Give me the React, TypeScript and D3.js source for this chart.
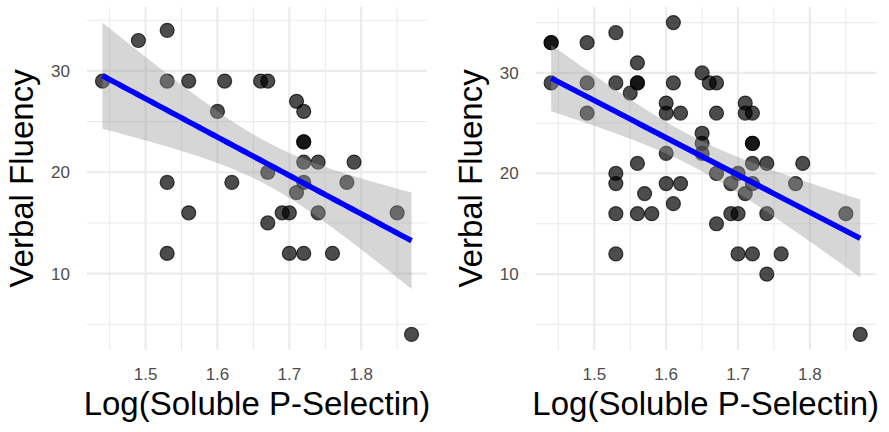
import React, { useEffect, useRef } from 'react';
import * as d3 from 'd3';

// left panel
const xLeft = [1.44, 1.49, 1.53, 1.53, 1.56, 1.61, 1.66, 1.67, 1.60, 1.71, 1.72, 1.72, 1.72, 1.72, 1.74, 1.79, 1.53,
  1.62, 1.67, 1.72, 1.78, 1.71, 1.56, 1.69, 1.70, 1.74, 1.85, 1.67, 1.53, 1.70, 1.72, 1.76, 1.87];
const yLeft = [29, 33, 34, 29, 29, 29, 29, 29, 26, 27, 26, 23, 23, 21, 21, 21, 19,
  19, 20, 19, 19, 18, 16, 16, 16, 16, 16, 15, 12, 12, 12, 12, 4];

// right panel
const xRight = [1.44, 1.44, 1.44, 1.49, 1.49, 1.49, 1.53, 1.53, 1.55, 1.56, 1.56, 1.56, 1.61, 1.61, 1.60, 1.60, 1.62,
  1.65, 1.66, 1.67, 1.67, 1.71, 1.71, 1.72, 1.65, 1.65, 1.65, 1.60, 1.72, 1.72, 1.56, 1.72, 1.74, 1.79, 1.53, 1.53,
  1.60, 1.62, 1.67, 1.69, 1.70, 1.72, 1.71, 1.78, 1.57, 1.61, 1.53, 1.56, 1.58, 1.69, 1.70, 1.74, 1.85, 1.67, 1.53,
  1.70, 1.72, 1.76, 1.74, 1.87];
const yRight = [33, 33, 29, 33, 29, 26, 34, 29, 28, 31, 29, 29, 35, 29, 27, 26, 26,
  30, 29, 29, 26, 27, 26, 26, 24, 23, 22, 22, 23, 23, 21, 21, 21, 21, 20, 19,
  19, 19, 20, 19, 20, 19, 18, 19, 18, 17, 16, 16, 16, 16, 16, 16, 16, 15, 12,
  12, 12, 12, 10, 4];

const xTicks = [1.5, 1.6, 1.7, 1.8];
const yTicks = [10, 20, 30];
const xTitle = 'Log(Soluble P-Selectin)';
const yTitle = 'Verbal Fluency';

const W = 889;
const H = 432;
const FONT = 'Liberation Sans, Arial, Helvetica, sans-serif';

// t quantile (0.975) approximation
const tq = (df: number) => {
  const z = 1.959964;
  return z + (z ** 3 + z) / (4 * df) + (5 * z ** 5 + 16 * z ** 3 + 3 * z) / (96 * df * df);
};

const fit = (xs: number[], ys: number[]) => {
  const n = xs.length;
  const mx = d3.mean(xs)!;
  const my = d3.mean(ys)!;
  let sxx = 0, sxy = 0;
  xs.forEach((x, i) => { sxx += (x - mx) ** 2; sxy += (x - mx) * (ys[i] - my); });
  const b = sxy / sxx;
  const a = my - b * mx;
  let sse = 0;
  xs.forEach((x, i) => { sse += (ys[i] - a - b * x) ** 2; });
  const s = Math.sqrt(sse / (n - 2));
  const t = tq(n - 2);
  const [x0, x1] = d3.extent(xs) as [number, number];
  const band = d3.range(81).map(i => {
    const x = x0 + (x1 - x0) * i / 80;
    const yh = a + b * x;
    const se = s * Math.sqrt(1 / n + (x - mx) ** 2 / sxx);
    return { x, y: yh, lo: yh - t * se, hi: yh + t * se };
  });
  return band;
};

const App = () => {
  const ref = useRef<SVGSVGElement>(null);

  useEffect(() => {
    const svg = d3.select(ref.current);
    svg.selectAll('*').remove();
    svg.append('rect').attr('width', W).attr('height', H).attr('fill', '#fff');

    const panels = [
      { xs: xLeft, ys: yLeft, left: 87, right: 427 },
      { xs: xRight, ys: yRight, left: 535.7, right: 875.7 },
    ];
    const top = 7;
    const bottom = 350;

    panels.forEach(p => {
      const band = fit(p.xs, p.ys);
      const xExt = d3.extent(p.xs) as [number, number];
      const yMin = Math.min(d3.min(p.ys)!, d3.min(band, d => d.lo)!);
      const yMax = Math.max(d3.max(p.ys)!, d3.max(band, d => d.hi)!);
      const xPad = (xExt[1] - xExt[0]) * 0.05;
      const yPad = (yMax - yMin) * 0.05;
      const x = d3.scaleLinear().domain([xExt[0] - xPad, xExt[1] + xPad]).range([p.left, p.right]);
      const y = d3.scaleLinear().domain([yMin - yPad, yMax + yPad]).range([bottom, top]);

      const g = svg.append('g');

      // minor grid
      const xMinor = xTicks.map(t => t - 0.05).concat([xTicks[xTicks.length - 1] + 0.05]).filter(v => v >= x.domain()[0] && v <= x.domain()[1]);
      const yMinor = yTicks.map(t => t - 5).concat([yTicks[yTicks.length - 1] + 5]).filter(v => v >= y.domain()[0] && v <= y.domain()[1]);
      g.selectAll('.xmin').data(xMinor).enter().append('line')
        .attr('x1', d => x(d)).attr('x2', d => x(d)).attr('y1', top).attr('y2', bottom)
        .attr('stroke', '#ebebeb').attr('stroke-width', 1.1);
      g.selectAll('.ymin').data(yMinor).enter().append('line')
        .attr('x1', p.left).attr('x2', p.right).attr('y1', d => y(d)).attr('y2', d => y(d))
        .attr('stroke', '#ebebeb').attr('stroke-width', 1.1);
      // major grid
      g.selectAll('.xmaj').data(xTicks).enter().append('line')
        .attr('x1', d => x(d)).attr('x2', d => x(d)).attr('y1', top).attr('y2', bottom)
        .attr('stroke', '#ebebeb').attr('stroke-width', 2.2);
      g.selectAll('.ymaj').data(yTicks).enter().append('line')
        .attr('x1', p.left).attr('x2', p.right).attr('y1', d => y(d)).attr('y2', d => y(d))
        .attr('stroke', '#ebebeb').attr('stroke-width', 2.2);

      // points
      g.selectAll('circle').data(p.xs).enter().append('circle')
        .attr('cx', d => x(d)).attr('cy', (d, i) => y(p.ys[i])).attr('r', 7)
        .attr('fill', '#000').attr('fill-opacity', 0.7)
        .attr('stroke', '#000').attr('stroke-opacity', 0.7).attr('stroke-width', 1.2);

      // confidence band
      const area = d3.area<any>().x(d => x(d.x)).y0(d => y(d.lo)).y1(d => y(d.hi));
      g.append('path').attr('d', area(band)).attr('fill', '#999999').attr('fill-opacity', 0.4);

      const line = d3.line<any>().x(d => x(d.x)).y(d => y(d.y));
      g.append('path').attr('d', line(band)).attr('fill', 'none').attr('stroke', '#0000ff').attr('stroke-width', 5.5);

      // tick labels
      g.selectAll('.xt').data(xTicks).enter().append('text')
        .attr('x', d => x(d)).attr('y', bottom + 30).attr('text-anchor', 'middle')
        .style('font-family', FONT).style('font-size', '17px').attr('fill', '#4d4d4d')
        .text(d => d3.format('.1f')(d));
      g.selectAll('.yt').data(yTicks).enter().append('text')
        .attr('x', p.left - 17).attr('y', d => y(d)).attr('dy', '0.35em').attr('text-anchor', 'end')
        .style('font-family', FONT).style('font-size', '17px').attr('fill', '#4d4d4d')
        .text(d => d);

      // titles
      g.append('text')
        .attr('x', (p.left + p.right) / 2).attr('y', 415).attr('text-anchor', 'middle')
        .style('font-family', FONT).style('font-size', '33px').attr('fill', '#000')
        .text(xTitle);
      g.append('text')
        .attr('transform', `translate(${p.left - 54}, ${(top + bottom) / 2}) rotate(-90)`)
        .attr('text-anchor', 'middle')
        .style('font-family', FONT).style('font-size', '33px').attr('fill', '#000')
        .text(yTitle);
    });
  }, []);

  return (
    <svg ref={ref} width={W} height={H} style={{ position: 'absolute', left: 0, top: 0 }}></svg>
  );
};

export default App;
